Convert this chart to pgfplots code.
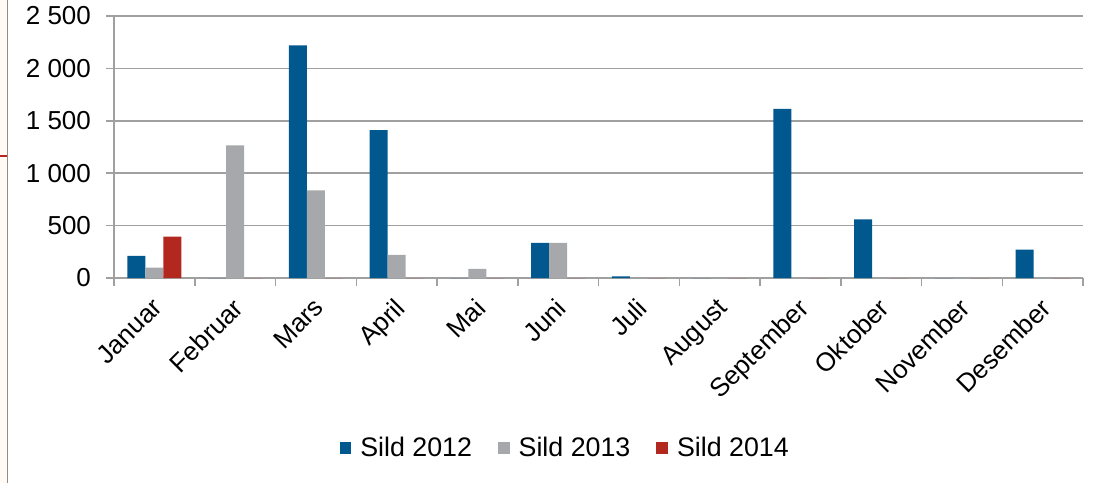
\documentclass[border=0pt]{standalone}
\usepackage{pgfplots}
\pgfplotsset{compat=1.18}
\usepackage{fontspec}
\setmainfont{Liberation Sans}
\definecolor{cBlue}{RGB}{0,88,143}
\definecolor{cGray}{RGB}{166,168,171}
\definecolor{cRed}{RGB}{178,40,30}
\definecolor{cGrid}{RGB}{160,160,160}
\definecolor{cEdge}{RGB}{150,140,130}
\definecolor{cCream}{RGB}{255,250,244}
\begin{document}
\begin{tikzpicture}
\useasboundingbox (0pt,0pt) rectangle (554.5pt,241.5pt);
\fill[white] (0pt,0pt) rectangle (554.5pt,241.5pt);
\fill[cCream] (0pt,0pt) rectangle (3.6pt,241.5pt);
\draw[cEdge, line width=0.8pt] (3.8pt,0pt) -- (3.8pt,241.5pt);
\draw[cRed, line width=0.6pt] (0pt,163.5pt) -- (3.6pt,163.5pt);
\begin{axis}[
  at={(57pt,102.5pt)}, anchor=south west,
  scale only axis, width=484.5pt, height=131pt,
  ybar=0pt, bar width=9pt,
  xmin=-0.5, xmax=11.5, ymin=0, ymax=2500,
  axis x line=bottom, axis y line=left,
  axis line style={-, draw=cGrid, line width=0.75pt},
  tick align=outside,
  tick style={draw=cGrid, line width=0.75pt},
  major tick length=4pt, minor tick length=4pt,
  xtick={0,1,2,3,4,5,6,7,8,9,10,11},
  xticklabels={Januar,Februar,Mars,April,Mai,Juni,Juli,August,September,Oktober,November,Desember},
  major x tick style={draw=none},
  minor xtick={-0.5,0.5,1.5,2.5,3.5,4.5,5.5,6.5,7.5,8.5,9.5,10.5,11.5},
  xticklabel style={rotate=45, anchor=north east, xshift=-1.5pt, yshift=1pt},
  ytick={0,500,1000,1500,2000,2500},
  yticklabels={0,500,1 000,1 500,2 000,2 500},
  yticklabel style={anchor=east, xshift=-4pt},
  every tick label/.append style={font=\fontsize{13}{15}\selectfont, text=black},
  ymajorgrids, grid style={draw=cGrid, line width=0.75pt},
  legend columns=3,
  legend style={at={(0.4667,-0.649)}, anchor=center, draw=none, fill=none,
    font=\fontsize{13.4}{16}\selectfont,
    /tikz/every odd column/.append style={column sep=2.5pt},
    /tikz/every even column/.append style={column sep=11pt}},
  legend image code/.code={\fill[#1] (0pt,-2.9pt) rectangle (5.8pt,2.9pt);},
]
\addplot[fill=cBlue, draw=none] coordinates {(0,210) (1,0) (2,2220) (3,1410) (4,0) (5,335) (6,15) (7,0) (8,1615) (9,560) (10,0) (11,270)};
\addplot[fill=cGray, draw=none] coordinates {(0,100) (1,1265) (2,835) (3,220) (4,88) (5,335) (6,0) (7,0) (8,0) (9,0) (10,0) (11,0)};
\addplot[fill=cRed, draw=none] coordinates {(0,395) (1,0) (2,0) (3,0) (4,0) (5,0) (6,0) (7,0) (8,0) (9,0) (10,0) (11,0)};
\legend{Sild 2012,Sild 2013,Sild 2014}
\end{axis}
\end{tikzpicture}
\end{document}
